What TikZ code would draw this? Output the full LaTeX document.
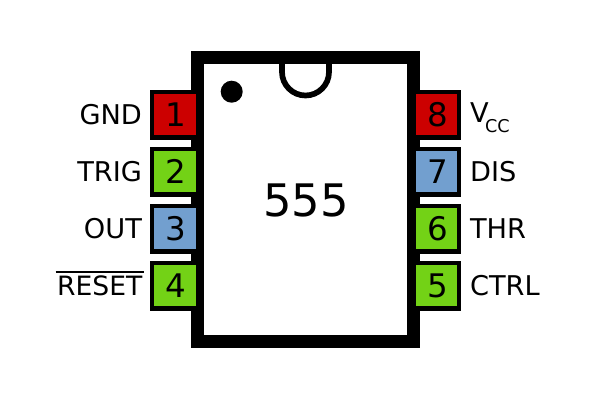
\documentclass[tikz,border=0pt]{standalone}
\usepackage{fontspec}
\setmainfont{DejaVu Sans}
\usepackage{xcolor}
\usetikzlibrary{positioning}
\definecolor{pinred}{HTML}{CC0000}
\definecolor{pingreen}{HTML}{73D216}
\definecolor{pinblue}{HTML}{729FCF}
\newcommand{\barred}[1]{\vbox{\hrule height 1.6pt \kern 3pt \hbox{\kern1.5pt #1\kern1.5pt}}}
\begin{document}
\begin{tikzpicture}[x=1pt,y=1pt,node distance=7.2pt,
  chip node/.style={rectangle,draw,fill=white,line width=13pt,minimum width=216pt,minimum height=284pt},
  pin node/.style={rectangle,draw,line width=4.2pt,minimum size=45.6pt,inner sep=0pt,font=\fontsize{32.5}{32.5}\selectfont,text height=23.7pt,text depth=0pt,execute at begin node=\kern2pt},
  red pin/.style={pin node,fill=pinred},
  green pin/.style={pin node,fill=pingreen},
  blue pin/.style={pin node,fill=pinblue},
  pin label/.style={inner sep=0pt,font=\fontsize{27.2}{27.2}\selectfont,text height=19.8pt,text depth=0pt}]
    \useasboundingbox (0,0) rectangle (600,400);
    \node[chip node](U1) at (305.5,200.3){};
    \fill (231.7,308.3) circle (11);
    \draw[line width=5.7pt] (282,338) -- (282,328) arc (180:360:23.5) -- (329,338);
    \node[font=\fontsize{44.8}{44.8}\selectfont,inner sep=0pt,text height=32.7pt,text depth=0pt] (name) at (306,199.8) {555};
    \node[red pin](P1) at (175,285.3){1};
    \node[green pin,below=of P1](P2){2};
    \node[blue pin,below=of P2](P3){3};
    \node[green pin,below=of P3](P4){4};
    \node[red pin](P8) at (436.5,285.3){8};
    \node[blue pin,below=of P8](P7){7};
    \node[green pin,below=of P7](P6){6};
    \node[green pin,below=of P6](P5){5};
    \node[pin label,left=8pt of P1](L1){GND};
    \node[pin label,left=8pt of P2](L2){TRIG};
    \node[pin label,left=8pt of P3](L3){OUT};
    \node[pin label,left=6pt of P4,font=\fontsize{26.6}{26.6}\selectfont](L4){\barred{RESET}};
    \node[pin label,right=8.5pt of P8,yshift=2.3pt](L8){V\kern-3.5pt\raisebox{-10pt}{\fontsize{17.6}{17.6}\selectfont CC}};
    \node[pin label,right=8.5pt of P7](L7){DIS};
    \node[pin label,right=8.5pt of P6](L6){THR};
    \node[pin label,right=8.5pt of P5](L5){CTRL};
\end{tikzpicture}
\end{document}
